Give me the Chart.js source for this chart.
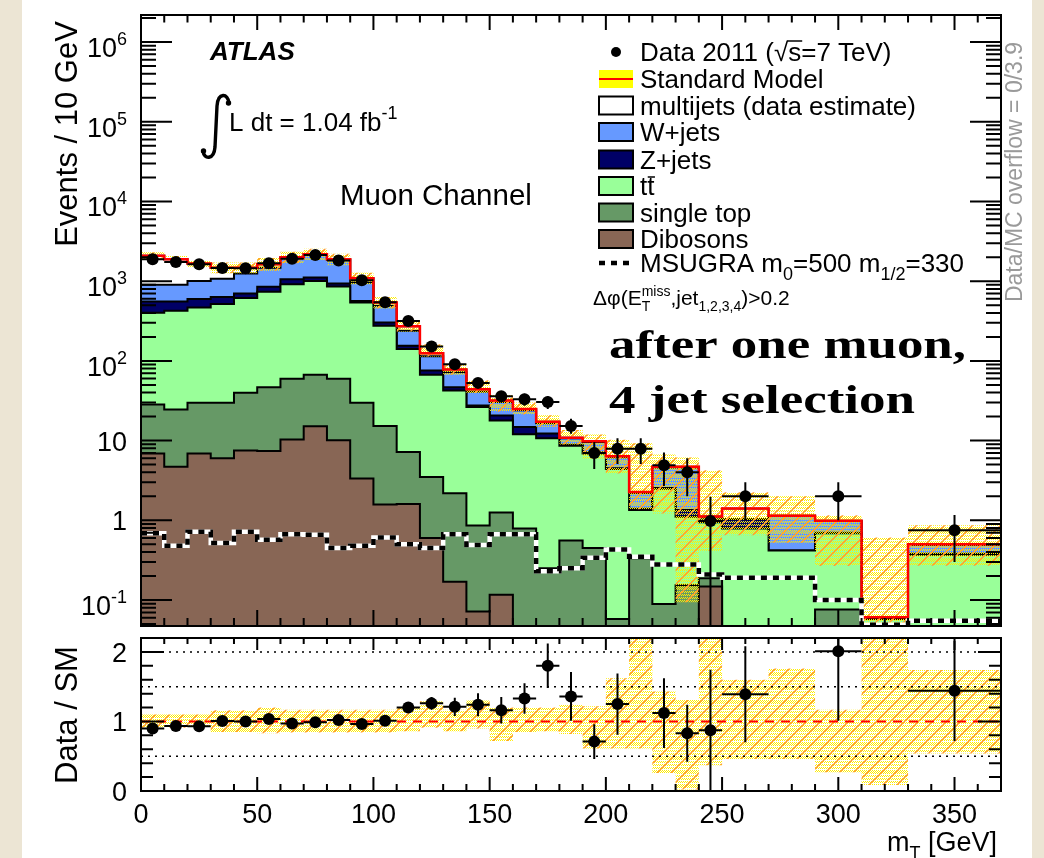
<!DOCTYPE html>
<html>
<head>
<meta charset="utf-8">
<title>mT after one muon, 4 jet selection</title>
<script src="https://cdn.jsdelivr.net/npm/chart.js@4.4.1/dist/chart.umd.min.js"></script>
<style>
  body { margin: 0; background: #ece5d4; }
  #sheet { position: absolute; left: 22px; top: 0; width: 1010px; height: 858px; background: #fff; }
  canvas { position: absolute; left: 0; }
</style>
</head>
<body>
<div id="sheet"></div>
<canvas id="mainPlot" width="1044" height="632" style="top:0"></canvas>
<canvas id="ratioPlot" width="1044" height="226" style="top:632px"></canvas>
<script>
const SANS = '"Liberation Sans", Arial, Helvetica, sans-serif';
const SERIF = '"Liberation Serif", "Times New Roman", serif';

// mT binning in GeV (10 GeV bins, wider ones in the tail)
const binEdges = [0, 10, 20, 30, 40, 50, 60, 70, 80, 90, 100, 110, 120, 130, 140, 150, 160, 170, 180, 190, 200,
  210, 220, 230, 240, 250, 270, 290, 310, 330, 370];

// SM expectation, events / 10 GeV, per process
const dibosons = [6.9, 4.7, 6.9, 6.0, 7.5, 7.4, 10.3, 15.1, 10.1, 3.35, 1.58, 1.6, 0.6, 0.17, 0.072, 0.117, 0, 0, 0, 0,
  0, 0, 0, 0, 0.148, 0, 0, 0, 0, 0];
const singleTop = [21.4, 19.9, 23.0, 23.9, 32.3, 39.4, 49.3, 51.7, 49.5, 26.6, 13.7, 5.6, 2.9, 2.01, 0.79, 1.14, 0.79, 0.25, 0.56, 0.45,
  0.058, 0.335, 0.089, 0.153, 0.04, 0, 0, 0.076, 0, 0];
const ttbar = [372, 400, 438, 487, 573, 690, 858, 937, 797, 510, 260, 134, 63.5, 40.4, 25.5, 16.6, 11.2, 10.45, 8.04, 6.45,
  4.34, 1.015, 2.41, 0.957, 0.762, 0.79, 0.418, 0.614, 0.058, 0.37];
const zJets = [157, 132, 128, 118, 90, 113, 141, 109, 80, 26, 28, 14, 8.6, 4.2, 1.2, 2.8, 2.8, 1.6, 0.3, 0.2,
  0.1, 0.05, 0.05, 0.24, 0.05, 0.24, 0.002, 0.01, 0, 0.01];
const wJets = [344, 344, 408, 440, 547, 626, 881, 1057, 903, 394, 187, 83, 38.4, 25.2, 13.8, 9.8, 9.2, 4.2, 1.8, 2.5,
  1.7, 0.8, 2.05, 3.25, 0.08, 0, 0.72, 0.28, 0.002, 0.11];
const multijets = [1189, 983, 656, 401, 226, 152, 55, 10, 44, 130, 50, 34, 11, 6, 2.6, 1.5, 1.0, 0.8, 0.2, 0.2,
  0.15, 0.06, 0.09, 0.09, 0.04, 0.38, 0, 0.01, 0.001, 0.01];

// signal point m0=500, m1/2=330
const msugra = [0.69, 0.48, 0.72, 0.52, 0.72, 0.57, 0.67, 0.66, 0.45, 0.48, 0.61, 0.50, 0.45, 0.67, 0.49, 0.67, 0.67, 0.23, 0.25, 0.34,
  0.43, 0.35, 0.28, 0.28, 0.21, 0.19, 0.19, 0.10, 0.049, 0.055];

// data 2011, events / 10 GeV (null = empty bin)
const dataCounts = [1884, 1740, 1630, 1467, 1450, 1680, 1910, 2130, 1820, 1025, 545, 316, 152, 91, 53, 36, 33, 30.5, 15.3, 7.0,
  7.9, 7.9, 4.9, 4.0, 0.98, 2.0, null, 2.0, null, 0.75];
const dataErrUp = [43, 42, 40, 38, 38, 41, 44, 46, 43, 32, 23, 18, 12, 9.5, 7.3, 6, 5.7, 5.5, 3.5, 2.6,
  2.8, 2.8, 2.2, 2.0, 1.0, 1.0, null, 1.0, null, 0.42];
const dataErrDown = [43, 42, 40, 38, 38, 41, 44, 46, 43, 32, 23, 18, 12, 9.5, 7.3, 6, 5.7, 5.5, 3.1, 2.6,
  2.8, 2.8, 2.2, 2.0, 0.98, 1.0, null, 1.0, null, 0.45];

// SM systematic band, relative to the SM total
const bandHigh = [1.10, 1.10, 1.10, 1.16, 1.16, 1.20, 1.17, 1.17, 1.17, 1.17, 1.17, 1.20, 1.29, 1.17, 1.30, 1.20, 1.20, 1.20, 1.25, 1.22,
  1.62, 4.1, 1.43, 1.31, 3.8, 1.60, 1.76, 1.17, 10, 1.74];
const bandLow = [0.91, 0.91, 0.91, 0.85, 0.85, 0.83, 0.84, 0.84, 0.84, 0.84, 0.84, 0.86, 0.91, 0.86, 0.90, 0.72, 0.85, 0.86, 0.82, 0.61,
  0.61, 0.61, 0.26, 0.02, 0.37, 0.46, 0.46, 0.27, 0.085, 0.54];

// Data / SM
const ratioValues = [0.90, 0.936, 0.93, 1.007, 1.0, 1.035, 0.97, 0.99, 1.02, 0.965, 1.01, 1.20, 1.26, 1.21, 1.24, 1.16, 1.33, 1.80, 1.36, 0.71,
  1.25, null, 1.12, 0.83, 0.875, 1.39, null, 2.01, null, 1.44];
const ratioErr = [0.025, 0.025, 0.025, 0.027, 0.027, 0.026, 0.024, 0.023, 0.024, 0.032, 0.045, 0.05, 0.09, 0.13, 0.165, 0.19, 0.22, 0.32, 0.35, 0.25,
  0.44, null, 0.5, 0.41, 0.87, 0.69, null, 1.0, null, 0.72];

const massTicks = [0, 50, 100, 150, 200, 250, 300, 350];
const decadeTicks = [-1, 0, 1, 2, 3, 4, 5, 6];
const ratioTicks = [0, 1, 2];
const ratioGuides = [0.5, 1.5, 2];

const centers = binEdges.slice(0, -1).map((e, i) => (e + binEdges[i + 1]) / 2);

// step outline: one point per lower edge plus the closing upper edge;
// empty bins are pushed far below the axis so the outline drops to the floor
function histo(values) {
  const pts = values.map((v, i) => ({ x: binEdges[i], y: Math.max(v, 1e-4) }));
  pts.push({ x: binEdges[binEdges.length - 1], y: Math.max(values[values.length - 1], 1e-4) });
  return pts;
}

// stack bottom-up, as THStack does
const processes = [
  { label: 'Dibosons', yields: dibosons, color: '#886655' },
  { label: 'single top', yields: singleTop, color: '#669966' },
  { label: 'tt', yields: ttbar, color: '#99ff99' },
  { label: 'Z+jets', yields: zJets, color: '#000066' },
  { label: 'W+jets', yields: wJets, color: '#6699ff' },
  { label: 'multijets (data estimate)', yields: multijets, color: '#ffffff' }
];
let running = dibosons.map(() => 0);
processes.forEach((p) => {
  running = running.map((r, i) => r + p.yields[i]);
  p.cumulative = running;
});
const smTotal = running;

// yellow stipple with orange diagonal hatching for the uncertainty band
function bandPattern(ctx) {
  const tile = document.createElement('canvas');
  tile.width = tile.height = 14;
  const g = tile.getContext('2d');
  g.fillStyle = '#ffee00';
  for (let r = 0; r < 14; r++) {
    if (r % 3 === 2) continue;
    for (let c = r % 2; c < 14; c += 2) g.fillRect(c, r, 1, 1);
  }
  g.strokeStyle = '#ff9a33';
  g.lineWidth = 1.4;
  g.beginPath();
  g.moveTo(-2, 16); g.lineTo(16, -2);
  g.moveTo(-9, 9); g.lineTo(9, -9);
  g.moveTo(5, 23); g.lineTo(23, 5);
  g.stroke();
  return ctx.createPattern(tile, 'repeat');
}

function rich(ctx, runs, x, y, size, measureOnly) {
  let cx = x;
  ctx.textAlign = 'left';
  ctx.textBaseline = 'alphabetic';
  for (const r of runs) {
    const small = r.sub || r.sup;
    const s = small ? Math.round(size * 0.68) : size;
    ctx.font = `${r.font || ''} ${s}px ${SANS}`;
    const dy = r.sub ? size * 0.3 : r.sup ? -size * 0.45 : 0;
    if (!measureOnly) ctx.fillText(r.t, cx, y + dy);
    if (!r.hold) cx += ctx.measureText(r.t).width;
  }
  return cx - x;
}

function verticalTitle(ctx, str, x, y, size, color) {
  ctx.save();
  ctx.translate(x, y);
  ctx.rotate(-Math.PI / 2);
  ctx.font = `${size}px ${SANS}`;
  ctx.fillStyle = color || '#000';
  ctx.textAlign = 'center';
  ctx.textBaseline = 'alphabetic';
  ctx.fillText(str, 0, 0);
  ctx.restore();
}

function errorBars(ctx, a, x, y, values, up, down) {
  ctx.save();
  ctx.beginPath();
  ctx.rect(a.left, a.top, a.right - a.left, a.bottom - a.top);
  ctx.clip();
  ctx.strokeStyle = '#000';
  ctx.lineWidth = 2;
  ctx.beginPath();
  values.forEach((v, i) => {
    if (v === null) return;
    const py = y.getPixelForValue(v);
    const cx = x.getPixelForValue(centers[i]);
    ctx.moveTo(x.getPixelForValue(binEdges[i]), py);
    ctx.lineTo(x.getPixelForValue(binEdges[i + 1]), py);
    const lo = v - down[i];
    ctx.moveTo(cx, lo > 0 ? y.getPixelForValue(lo) : a.bottom);
    ctx.lineTo(cx, y.getPixelForValue(v + up[i]));
  });
  ctx.stroke();
  ctx.restore();
}

function massAxisTicks(ctx, a, x, bottomLen, topLen) {
  ctx.beginPath();
  for (let v = 0; v <= x.max; v += 10) {
    const px = x.getPixelForValue(v);
    const major = massTicks.includes(v);
    ctx.moveTo(px, a.bottom); ctx.lineTo(px, a.bottom - (major ? bottomLen : bottomLen / 2));
    ctx.moveTo(px, a.top); ctx.lineTo(px, a.top + (major ? topLen : topLen / 2));
  }
  ctx.stroke();
}

const mainDecor = {
  id: 'mainDecor',
  afterDatasetsDraw(chart) {
    const { ctx, chartArea: a, scales: { x, y } } = chart;
    errorBars(ctx, a, x, y, dataCounts, dataErrUp, dataErrDown);
  },
  afterDraw(chart) {
    const { ctx, chartArea: a, scales: { x, y } } = chart;
    ctx.save();
    ctx.strokeStyle = '#000';
    ctx.fillStyle = '#000';
    ctx.lineWidth = 2;
    ctx.strokeRect(a.left, a.top, a.right - a.left, a.bottom - a.top);

    massAxisTicks(ctx, a, x, 16, 15);
    ctx.beginPath();
    for (let d = -2; d <= 6; d++) {
      for (let m = 1; m <= 9; m++) {
        const v = m * 10 ** d;
        if (v < y.min || v > y.max) continue;
        const py = y.getPixelForValue(v);
        const len = m === 1 ? 31 : 15;
        ctx.moveTo(a.left, py); ctx.lineTo(a.left + len, py);
        ctx.moveTo(a.right, py); ctx.lineTo(a.right - len, py);
      }
    }
    ctx.stroke();

    // decade labels
    decadeTicks.forEach((d) => {
      const py = y.getPixelForValue(10 ** d);
      if (d === 0 || d === 1) {
        ctx.font = `27px ${SANS}`;
        ctx.textAlign = 'right';
        ctx.fillText(d === 0 ? '1' : '10', 127, py + 10);
      } else {
        const runs = [{ t: '10' }, { t: String(d), sup: true }];
        const w = rich(ctx, runs, 0, 0, 27, true);
        rich(ctx, runs, 127 - w, py + 15, 27);
      }
    });
    verticalTitle(ctx, 'Events / 10 GeV', 77, 134, 31);

    // labels inside the frame
    ctx.font = `italic bold 26px ${SANS}`;
    ctx.textAlign = 'left';
    ctx.fillText('ATLAS', 210, 60);

    ctx.lineWidth = 3.4;
    ctx.beginPath();
    ctx.moveTo(229, 103);
    ctx.bezierCurveTo(228, 93, 218, 92, 217, 106);
    ctx.lineTo(215, 147);
    ctx.bezierCurveTo(214, 160, 204, 160, 203, 151);
    ctx.stroke();
    ctx.beginPath(); ctx.arc(228.5, 103, 2.7, 0, 2 * Math.PI); ctx.fill();
    ctx.beginPath(); ctx.arc(203.5, 151, 2.7, 0, 2 * Math.PI); ctx.fill();
    rich(ctx, [{ t: 'L dt = 1.04 fb' }, { t: '-1', sup: true }], 229, 131, 26);

    ctx.font = `29.5px ${SANS}`;
    ctx.fillText('Muon Channel', 340, 205);

    // legend
    const bx = 599, bw = 34, bh = 18, tx = 640, size = 26;
    const rows = [52, 79, 105.5, 132, 159.5, 186, 212.5, 239, 263];
    ctx.beginPath(); ctx.arc(616, rows[0], 5, 0, 2 * Math.PI); ctx.fill();
    ctx.font = `${size}px ${SANS}`;
    ctx.fillText('Data 2011 (√s=7 TeV)', tx, rows[0] + 9);
    const sx = tx + ctx.measureText('Data 2011 (√').width;
    const sw = ctx.measureText('s').width;
    ctx.lineWidth = 1.5;
    ctx.beginPath(); ctx.moveTo(sx - 1, rows[0] - 11); ctx.lineTo(sx + sw + 1, rows[0] - 11); ctx.stroke();

    ctx.fillStyle = '#ffff00';
    ctx.fillRect(bx, rows[1] - 9, bw, bh);
    ctx.strokeStyle = '#ff0000';
    ctx.lineWidth = 2;
    ctx.beginPath(); ctx.moveTo(bx, rows[1]); ctx.lineTo(bx + bw, rows[1]); ctx.stroke();
    ctx.fillStyle = '#000';
    ctx.fillText('Standard Model', tx, rows[1] + 9);

    const boxes = processes.slice().reverse();
    boxes.forEach((p, k) => {
      const yc = rows[2 + k];
      ctx.fillStyle = p.color;
      ctx.fillRect(bx, yc - bh / 2, bw, bh);
      ctx.strokeStyle = '#000';
      ctx.lineWidth = 2;
      ctx.strokeRect(bx, yc - bh / 2, bw, bh);
      ctx.fillStyle = '#000';
      ctx.font = `${size}px ${SANS}`;
      ctx.textAlign = 'left';
      ctx.fillText(p.label, tx, yc + 9);
      if (p.label === 'tt') {
        const t1 = ctx.measureText('t').width;
        ctx.lineWidth = 1.5;
        ctx.beginPath(); ctx.moveTo(tx + t1 + 0.5, yc - 9); ctx.lineTo(tx + 2 * t1 + 0.5, yc - 9); ctx.stroke();
      }
    });

    ctx.strokeStyle = '#000';
    ctx.lineWidth = 4.5;
    ctx.setLineDash([6, 6]);
    ctx.beginPath(); ctx.moveTo(bx, rows[8]); ctx.lineTo(bx + bw + 2, rows[8]); ctx.stroke();
    ctx.setLineDash([]);
    rich(ctx, [{ t: 'MSUGRA m' }, { t: '0', sub: true }, { t: '=500 m' }, { t: '1/2', sub: true }, { t: '=330' }],
      tx, rows[8] + 9, size);

    rich(ctx, [{ t: 'Δφ(E' }, { t: 'T', sub: true, hold: true }, { t: 'miss', sup: true }, { t: ',jet' },
      { t: '1,2,3,4', sub: true }, { t: ')>0.2' }], 593, 305, 21);

    // selection note
    ctx.font = `bold 40px ${SERIF}`;
    [['after one muon,', 358, 357], ['4 jet selection', 413, 306]].forEach(([s, base, width]) => {
      ctx.save();
      ctx.translate(609, base);
      ctx.scale(width / ctx.measureText(s).width, 1);
      ctx.fillText(s, 0, 0);
      ctx.restore();
    });

    verticalTitle(ctx, 'Data/MC overflow = 0/3.9', 1022, 172, 23, '#9a9a9a');
    ctx.restore();
  }
};

const ratioDecor = {
  id: 'ratioDecor',
  beforeDatasetDraw(chart, args) {
    if (args.index !== 0) return;
    const { ctx, chartArea: a, scales: { y } } = chart;
    ctx.save();
    ctx.strokeStyle = '#000';
    ctx.lineWidth = 1.5;
    ctx.setLineDash([2, 5]);
    ratioGuides.forEach((v) => {
      const py = y.getPixelForValue(v);
      ctx.beginPath(); ctx.moveTo(a.left, py); ctx.lineTo(a.right, py); ctx.stroke();
    });
    ctx.strokeStyle = '#ff0000';
    ctx.lineWidth = 2;
    ctx.setLineDash([9, 7]);
    const p1 = y.getPixelForValue(1);
    ctx.beginPath(); ctx.moveTo(a.left, p1); ctx.lineTo(a.right, p1); ctx.stroke();
    ctx.restore();
  },
  afterDatasetsDraw(chart) {
    const { ctx, chartArea: a, scales: { x, y } } = chart;
    errorBars(ctx, a, x, y, ratioValues, ratioErr, ratioErr);
  },
  afterDraw(chart) {
    const { ctx, chartArea: a, scales: { x, y } } = chart;
    ctx.save();
    ctx.strokeStyle = '#000';
    ctx.fillStyle = '#000';
    ctx.lineWidth = 2;
    ctx.strokeRect(a.left, a.top, a.right - a.left, a.bottom - a.top);
    massAxisTicks(ctx, a, x, 14, 12);
    ctx.beginPath();
    for (let k = 0; k <= 11; k++) {
      const v = k * 0.2;
      const py = y.getPixelForValue(v);
      const len = ratioTicks.includes(Math.round(v * 10) / 10) ? 23 : 12;
      ctx.moveTo(a.left, py); ctx.lineTo(a.left + len, py);
      ctx.moveTo(a.right, py); ctx.lineTo(a.right - len, py);
    }
    ctx.stroke();

    ctx.font = `27px ${SANS}`;
    ctx.textAlign = 'right';
    ratioTicks.forEach((v) => ctx.fillText(String(v), 127, y.getPixelForValue(v) + 10));
    ctx.textAlign = 'center';
    massTicks.forEach((v) => ctx.fillText(String(v), x.getPixelForValue(v), 191));

    const titleRuns = [{ t: 'm' }, { t: 'T', sub: true }, { t: ' [GeV]' }];
    const w = rich(ctx, titleRuns, 0, 0, 27, true);
    rich(ctx, titleRuns, 997 - w, 219, 27);
    verticalTitle(ctx, 'Data / SM', 77, 83, 31);
    ctx.restore();
  }
};

const commonOptions = {
  responsive: false,
  animation: false,
  events: [],
  plugins: { legend: { display: false }, tooltip: { enabled: false } },
  elements: { line: { tension: 0 }, point: { radius: 0 } }
};

const mainCanvas = document.getElementById('mainPlot');
const mainPattern = bandPattern(mainCanvas.getContext('2d'));

new Chart(mainCanvas, {
  type: 'line',
  data: {
    datasets: [
      {
        label: 'Data 2011',
        data: centers.map((c, i) => ({ x: c, y: dataCounts[i] })),
        showLine: false,
        pointRadius: 6,
        pointBackgroundColor: '#000',
        pointBorderWidth: 0,
        order: 0
      },
      {
        label: 'MSUGRA',
        data: histo(msugra),
        stepped: true,
        fill: false,
        borderColor: '#000',
        borderWidth: 4.5,
        borderDash: [6, 6],
        order: 1
      },
      {
        label: 'MSUGRA (backing)',
        data: histo(msugra),
        stepped: true,
        fill: false,
        borderColor: '#fff',
        borderWidth: 4.5,
        order: 2
      },
      {
        label: 'Standard Model',
        data: histo(smTotal),
        stepped: true,
        fill: false,
        borderColor: '#ff0000',
        borderWidth: 2.5,
        order: 3
      },
      {
        label: 'SM uncertainty (up)',
        data: histo(smTotal.map((v, i) => v * bandHigh[i])),
        stepped: true,
        fill: '+1',
        backgroundColor: mainPattern,
        borderWidth: 0,
        order: 4
      },
      {
        label: 'SM uncertainty (down)',
        data: histo(smTotal.map((v, i) => v * bandLow[i])),
        stepped: true,
        fill: false,
        borderWidth: 0,
        order: 5
      },
      ...processes.map((p, k) => ({
        label: p.label,
        data: histo(p.cumulative),
        stepped: true,
        fill: 'start',
        backgroundColor: p.color,
        borderColor: '#000',
        borderWidth: 2,
        order: 6 + k
      }))
    ]
  },
  options: {
    ...commonOptions,
    layout: { padding: { left: 141, right: 43, top: 15, bottom: 4 } },
    scales: {
      x: { type: 'linear', display: false, min: 0, max: 370 },
      y: { type: 'logarithmic', display: false, min: 0.0473, max: 2.18e6 }
    }
  },
  plugins: [mainDecor]
});

const ratioCanvas = document.getElementById('ratioPlot');
const ratioPattern = bandPattern(ratioCanvas.getContext('2d'));

new Chart(ratioCanvas, {
  type: 'line',
  data: {
    datasets: [
      {
        label: 'Data / SM',
        data: centers.map((c, i) => ({ x: c, y: ratioValues[i] })),
        showLine: false,
        pointRadius: 6,
        pointBackgroundColor: '#000',
        pointBorderWidth: 0,
        order: 0
      },
      {
        label: 'SM uncertainty (up)',
        data: histo(bandHigh),
        stepped: true,
        fill: '+1',
        backgroundColor: ratioPattern,
        borderWidth: 0,
        order: 1
      },
      {
        label: 'SM uncertainty (down)',
        data: histo(bandLow),
        stepped: true,
        fill: false,
        borderWidth: 0,
        order: 2
      }
    ]
  },
  options: {
    ...commonOptions,
    layout: { padding: { left: 141, right: 43, top: 4, bottom: 67 } },
    scales: {
      x: { type: 'linear', display: false, min: 0, max: 370 },
      y: { type: 'linear', display: false, min: 0, max: 2.2 }
    }
  },
  plugins: [ratioDecor]
});
</script>
</body>
</html>
